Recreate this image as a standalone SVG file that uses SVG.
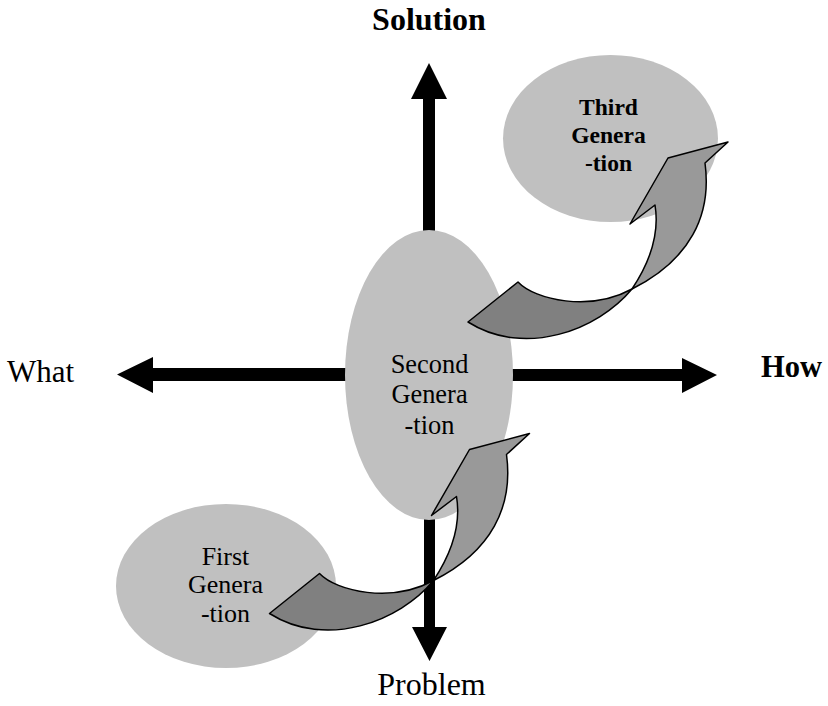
<svg xmlns="http://www.w3.org/2000/svg" xmlns:xlink="http://www.w3.org/1999/xlink" width="828" height="706" viewBox="0 0 828 706">
<style>
.ell{fill:#c0c0c0;stroke:none}
.ax{fill:#000}
.t{font-family:"Liberation Serif","Times New Roman",serif;fill:#000}
.b{font-weight:bold}
.dark{fill:#808080;stroke:#000;stroke-width:1.5;stroke-linejoin:round}
.light{fill:#999999;stroke:#000;stroke-width:1.5;stroke-linejoin:round}
</style>
<defs>
<g id="curved">
<path class="dark" d="M468,322 L518,282 C535,300 590,312 632,289 C598,330 525,358 468,322 Z"/>
<path class="light" d="M632,289 C648,265 660,235 655,205 L630,224 L668,158 L728,142 L705,163 C712,215 690,260 632,289 Z"/>
</g>
</defs>
<rect width="828" height="706" fill="#fff"/>
<g id="connectors">
<polygon class="ax" points="423,99 411,99 429,63 447,99 435,99 435,240 423,240"/>
<polygon class="ax" points="424,500 435,500 435,627 447,627 429.5,661 412,627 424,627"/>
<polygon class="ax" points="360,368 153,368 153,357 117,374.5 153,393 153,381 360,381"/>
<polygon class="ax" points="500,369 682,369 682,358 717,375 682,393 682,381 500,381"/>
</g>
<g id="second">
<ellipse class="ell" cx="429" cy="375" rx="84" ry="145"/>
<text class="t" x="429.5" y="372.7" font-size="26.4" text-anchor="middle">Second</text>
<text class="t" x="429.5" y="403.3" font-size="26.4" text-anchor="middle">Genera</text>
<text class="t" x="429.5" y="434" font-size="26.4" text-anchor="middle">-tion</text>
</g>
<g id="third">
<ellipse class="ell" cx="610.5" cy="138.5" rx="107.5" ry="83.5"/>
<text class="t b" x="608.5" y="115" font-size="23.6" text-anchor="middle">Third</text>
<text class="t b" x="608.5" y="143.3" font-size="23.6" text-anchor="middle">Genera</text>
<text class="t b" x="608.5" y="170.7" font-size="23.6" text-anchor="middle">-tion</text>
</g>
<g id="first">
<ellipse class="ell" cx="226" cy="586" rx="110" ry="82"/>
<text class="t" x="225.5" y="565" font-size="26" text-anchor="middle">First</text>
<text class="t" x="225.5" y="593.3" font-size="26" text-anchor="middle">Genera</text>
<text class="t" x="225.5" y="621.7" font-size="26" text-anchor="middle">-tion</text>
</g>
<g id="arrows">
<use xlink:href="#curved"/>
<use xlink:href="#curved" transform="translate(-198.5,291.5)"/>
</g>
<g id="labels">
<text class="t b" x="429" y="30" font-size="32" text-anchor="middle">Solution</text>
<text class="t" x="7" y="382" font-size="31">What</text>
<text class="t b" x="761" y="377" font-size="30.5">How</text>
<text class="t" x="431.5" y="695" font-size="32" text-anchor="middle">Problem</text>
</g>
</svg>
